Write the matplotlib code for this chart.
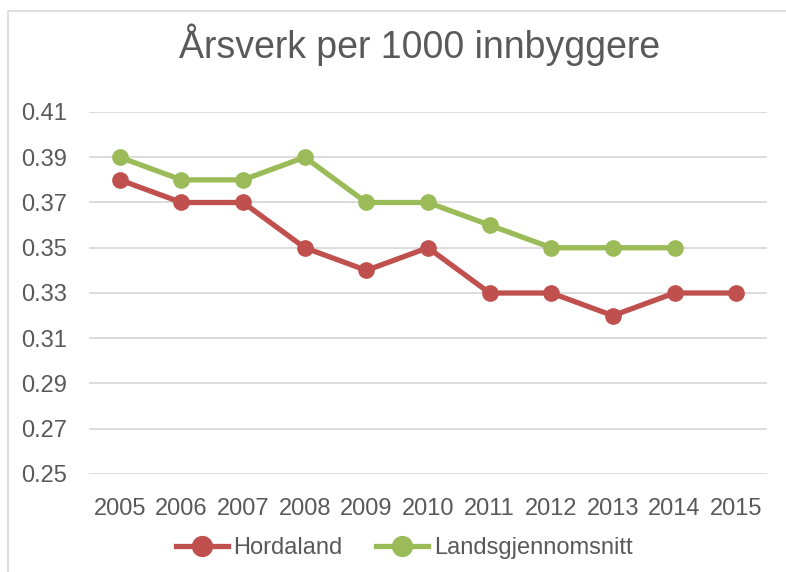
import matplotlib.pyplot as plt
from matplotlib.patches import Rectangle

# ---- data ----
years = [2005, 2006, 2007, 2008, 2009, 2010, 2011, 2012, 2013, 2014, 2015]
hordaland = [0.38, 0.37, 0.37, 0.35, 0.34, 0.35, 0.33, 0.33, 0.32, 0.33, 0.33]
landsgjennomsnitt = [0.39, 0.38, 0.38, 0.39, 0.37, 0.37, 0.36, 0.35, 0.35, 0.35]
yticks = [0.25, 0.27, 0.29, 0.31, 0.33, 0.35, 0.37, 0.39, 0.41]

plt.rcParams['font.family'] = ['Liberation Sans', 'DejaVu Sans']
txt = '#595959'
red = '#C0504D'
green = '#9BBB59'

fig = plt.figure(figsize=(7.86, 5.72), dpi=100)
ax = fig.add_axes([89/786, 1 - 474/572, (767 - 89)/786, (474 - 112)/572])

# chart frame
fig.patches.append(Rectangle((8/786, -0.1), 1.1, 1.1 - 11/572, transform=fig.transFigure,
                             fill=False, edgecolor='#D9D9D9', lw=1.2))

x = list(range(len(years)))
ax.plot(x, hordaland, color=red, lw=3.8, marker='o', ms=11, label='Hordaland', zorder=3)
ax.plot(x[:len(landsgjennomsnitt)], landsgjennomsnitt, color=green, lw=3.8, marker='o', ms=11,
        label='Landsgjennomsnitt', zorder=3)

ax.set_xlim(-0.5, len(years) - 0.5)
ax.set_ylim(0.25, 0.41)
ax.set_yticks(yticks)
ax.set_yticklabels([f'{v:.2f}' for v in yticks])
ax.set_xticks(x)
ax.set_xticklabels([str(y) for y in years])
ax.tick_params(length=0, labelsize=17, labelcolor=txt)
ax.tick_params(axis='x', pad=17)
ax.tick_params(axis='y', pad=16)
ax.grid(axis='y', color='#D9D9D9', lw=1.3)
ax.set_axisbelow(True)
for s in ax.spines.values():
    s.set_visible(False)

fig.text(420/786, 1 - 45/572, 'Årsverk per 1000 innbyggere', ha='center', va='center',
         fontsize=27, color=txt)

fig.legend(loc='center', bbox_to_anchor=(404/786, 1 - 548/572), ncol=2, frameon=False,
           fontsize=17, labelcolor=txt, handlelength=2.2, columnspacing=1.4, handletextpad=0.25,
           markerscale=1.3)

fig.savefig('out.png', dpi=100)
